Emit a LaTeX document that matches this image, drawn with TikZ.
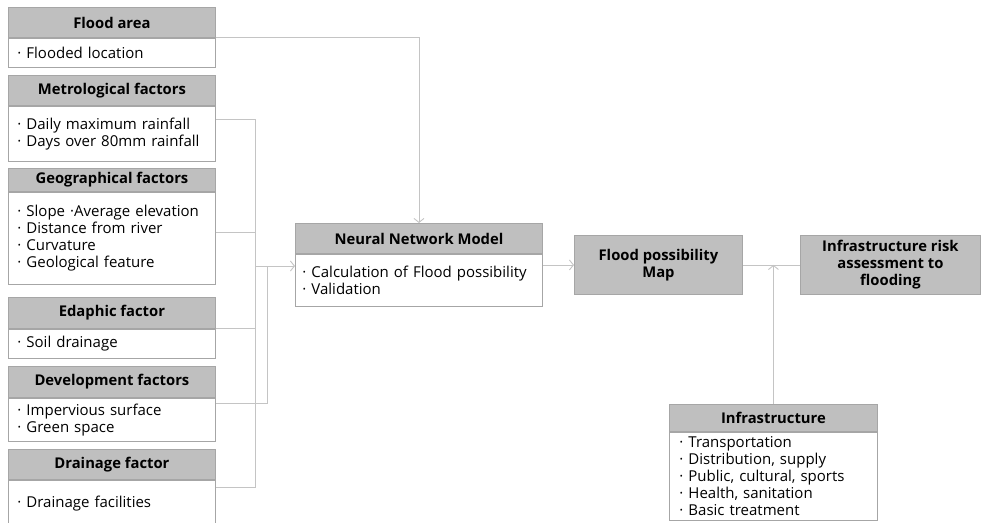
\documentclass[tikz,border=0pt]{standalone}
\usepackage{fontspec}
\setmainfont{Open Sans}
\usetikzlibrary{arrows.meta, positioning}
\definecolor{chead}{HTML}{BFBFBF}
\definecolor{cedge}{HTML}{A6A6A6}
\definecolor{cline}{HTML}{C4C4C4}
\tikzset{
  every picture/.style={x=1pt, y=-1pt, line width=0.9pt},
  head/.style={draw=cedge, fill=chead, minimum width=#1, inner sep=0pt, anchor=north west,
    align=center, font=\bfseries\fontsize{14.8}{17}\selectfont},
  body/.style={draw=cedge, fill=white, text width=#1, inner xsep=9pt, inner ysep=0pt,
    align=left, font=\fontsize{15}{17}\selectfont},
  link/.style={draw=cline},
  arrow/.style={draw=cline, -{Straight Barb[length=4pt, width=10pt]}},
}

\begin{document}
\begin{tikzpicture}
  \useasboundingbox (0,0) rectangle (981,522);
  % input factors
  \node[head=207pt, minimum height=30pt] (fa-h) at (8,7) {Flood area};
  \node[body=189pt, minimum height=29pt, below=0pt of fa-h] (fa-b) {· Flooded location};
  \node[head=207pt, minimum height=30pt] (mf-h) at (8,75) {Metrological factors};
  \node[body=189pt, minimum height=55pt, below=0pt of mf-h] (mf-b) {· Daily maximum rainfall\\· Days over 80mm rainfall};
  \node[head=207pt, minimum height=23pt] (gf-h) at (8,168) {Geographical factors};
  \node[body=189pt, minimum height=92pt, below=0pt of gf-h] (gf-b) {· Slope ·Average elevation\\· Distance from river\\· Curvature\\· Geological feature};
  \node[head=207pt, minimum height=31pt] (ed-h) at (8,297) {Edaphic factor};
  \node[body=189pt, minimum height=29pt, below=0pt of ed-h] (ed-b) {· Soil drainage};
  \node[head=207pt, minimum height=31pt] (dv-h) at (8,366) {Development factors};
  \node[body=189pt, minimum height=43pt, below=0pt of dv-h] (dv-b) {· Impervious surface\\· Green space};
  \node[head=207pt, minimum height=30pt] (dr-h) at (8,449) {Drainage factor};
  \node[body=189pt, minimum height=46pt, below=0pt of dr-h] (dr-b) {· Drainage facilities};
  % model and outputs
  \node[head=247pt, minimum height=30pt] (nn-h) at (295,223) {Neural Network Model};
  \node[body=233pt, inner xsep=7pt, minimum height=52pt, below=0pt of nn-h] (nn-b) {· Calculation of Flood possibility\\· Validation};
  \node[head=168pt, minimum height=59pt] (fpm) at (574,235) {Flood possibility\\Map};
  \node[head=180pt, minimum height=59pt] (ira) at (800,235) {Infrastructure risk\\assessment to\\flooding};
  \node[head=208pt, minimum height=27pt] (inf-h) at (669,404) {Infrastructure};
  \node[body=188pt, inner xsep=10pt, minimum height=88pt, below=0pt of inf-h] (inf-b) {· Transportation\\· Distribution, supply\\· Public, cultural, sports\\· Health, sanitation\\· Basic treatment};
  % connectors
  \coordinate (bus) at (255,266);
  \draw[arrow] (fa-b.north east) -| (nn-h.north);
  \draw[link] ([yshift=14.5pt]mf-b.east) -| (bus);
  \draw[link] ([yshift=6pt]gf-b.east) -| (bus);
  \draw[link] (ed-b.north east) -| (bus);
  \draw[link] ([yshift=-8pt]dr-b.north east) -| (bus);
  \draw[link] ([yshift=-6pt]dv-b.north east) -| ([xshift=12pt]bus);
  \draw[arrow] (bus) -- (bus -| nn-b.west);
  \draw[arrow] (fpm.west -| nn-b.east) -- (fpm.west);
  \draw[link] (fpm.east) -- (ira.west);
  \draw[arrow] (inf-h.north) -- (inf-h.north |- fpm.east);
\end{tikzpicture}
\end{document}
